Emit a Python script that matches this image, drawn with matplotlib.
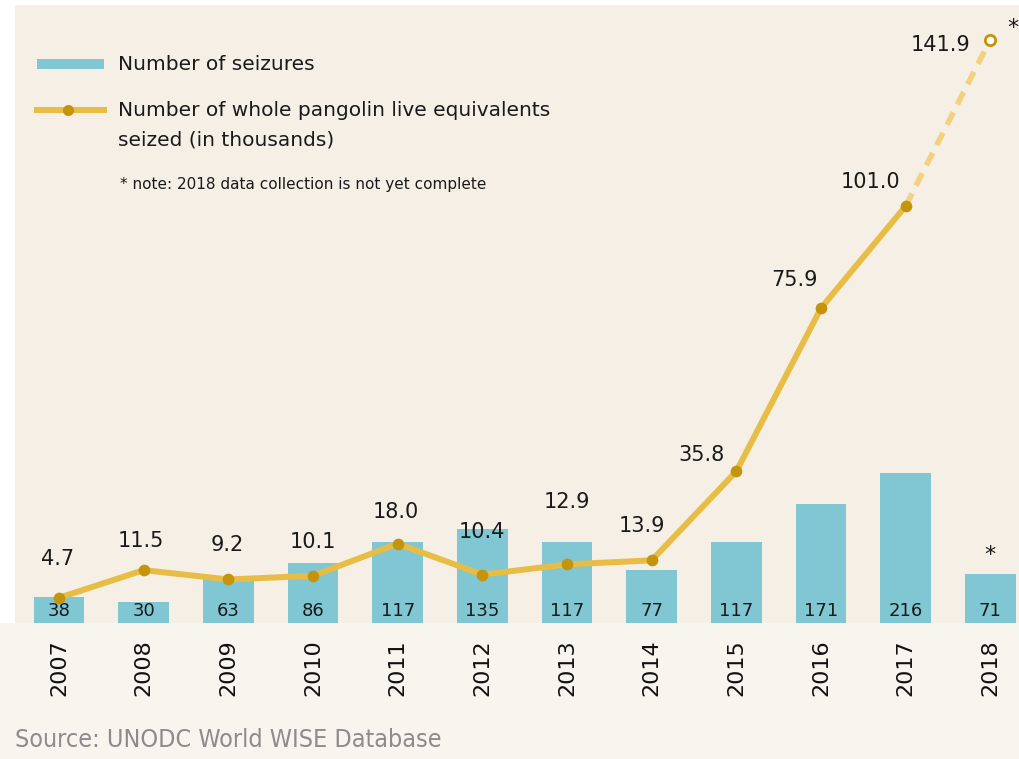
import matplotlib.pyplot as plt
from matplotlib.lines import Line2D
from matplotlib.patches import Rectangle

years = ["2007", "2008", "2009", "2010", "2011", "2012",
         "2013", "2014", "2015", "2016", "2017", "2018"]
seizures = [38, 30, 63, 86, 117, 135, 117, 77, 117, 171, 216, 71]
pangolins = [4.7, 11.5, 9.2, 10.1, 18.0, 10.4, 12.9, 13.9, 35.8, 75.9, 101.0, 141.9]

# label offsets (points) for the line values
label_offsets = [(-1, 28), (-2, 21), (-1, 25), (0, 24), (-1, 23), (0, 31),
                 (0, 45), (-7, 25), (-25, 12), (-19, 20), (-25, 17), (-36, -4)]

BAR_BLUE = "#80c6d3"
LINE_YELLOW = "#e8bd45"
DOT = "#c4950c"
DASH = "#f2d27e"
PLOT_BG = "#f5efe5"
LOWER_BG = "#f8f4ee"
INK = "#1a1a1a"

W, H = 1020, 759


def fx(px):
    return px / W


def fy(py):
    return 1 - py / H


fig = plt.figure(figsize=(10.2, 7.59), dpi=100, facecolor="white")
fig.patches.append(Rectangle((0, 0), 1, fy(623), transform=fig.transFigure,
                             facecolor=LOWER_BG, edgecolor="none", zorder=-5))
ax = fig.add_axes([fx(15), fy(623), fx(1005), 618 / H])
ax.set_facecolor(PLOT_BG)
x = list(range(len(years)))

ax.bar(x, seizures, width=0.6, color=BAR_BLUE, zorder=2)
ax.set_xlim(-0.52, 11.35)
ax.set_ylim(0, 890)
for xi, v in zip(x, seizures):
    ax.text(xi, 5, str(v), ha="center", va="bottom", fontsize=13, color=INK, zorder=3)
ax.text(x[-1], seizures[-1] + 12, "*", ha="center", va="bottom", fontsize=16, color=INK)

ax.set_xticks(x)
ax.set_xticklabels(years, rotation=90, fontsize=16, color="#111111")
ax.tick_params(axis="x", length=0, pad=12)
ax.set_yticks([])
for s in ax.spines.values():
    s.set_visible(False)

ax2 = ax.twinx()
ax2.set_ylim(-1.5, 150.4)
ax2.set_yticks([])
for s in ax2.spines.values():
    s.set_visible(False)

ax2.plot(x[:-1], pangolins[:-1], color=LINE_YELLOW, lw=4.3, solid_capstyle="round", zorder=4)
ax2.plot(x[-2:], pangolins[-2:], color=DASH, lw=4, ls=(0, (2.5, 1.6)), zorder=4)
ax2.scatter(x[:-1], pangolins[:-1], s=55, color=DOT, zorder=5)
ax2.scatter(x[-1:], pangolins[-1:], s=55, facecolor="white", edgecolor=DOT, linewidth=2, zorder=5)

for xi, v, (dx, dy) in zip(x, pangolins, label_offsets):
    ax2.annotate(f"{v:.1f}", (xi, v), xytext=(dx, dy), textcoords="offset points",
                 ha="center", va="center", fontsize=15, color=INK)
ax2.annotate("*", (x[-1], pangolins[-1]), xytext=(16, 8), textcoords="offset points",
             ha="center", va="center", fontsize=16, color=INK)

# legend drawn by hand so the line swatch sits on the first text line
fig.patches.append(Rectangle((fx(37), fy(69)), fx(104) - fx(37), 10 / H,
                             transform=fig.transFigure, facecolor=BAR_BLUE,
                             edgecolor="none", zorder=6))
fig.lines.append(Line2D([fx(37), fx(104)], [fy(110), fy(110)], transform=fig.transFigure,
                        color=LINE_YELLOW, lw=4.3, zorder=6))
fig.lines.append(Line2D([fx(68)], [fy(110)], transform=fig.transFigure, marker="o",
                        markersize=7, color=DOT, lw=0, zorder=7))
fig.text(fx(118), fy(64), "Number of seizures", fontsize=14.5, color=INK, va="center")
fig.text(fx(118), fy(110), "Number of whole pangolin live equivalents",
         fontsize=14.5, color=INK, va="center")
fig.text(fx(118), fy(140), "seized (in thousands)", fontsize=14.5, color=INK, va="center")
fig.text(fx(120), fy(185), "* note: 2018 data collection is not yet complete",
         fontsize=11, color=INK, va="center")

fig.text(fx(15), fy(740), "Source: UNODC World WISE Database",
         fontsize=18, color="#8c8c8c", va="center", family="DejaVu Sans",
         fontstretch="condensed")

fig.savefig("out.png", dpi=100, facecolor="white")
